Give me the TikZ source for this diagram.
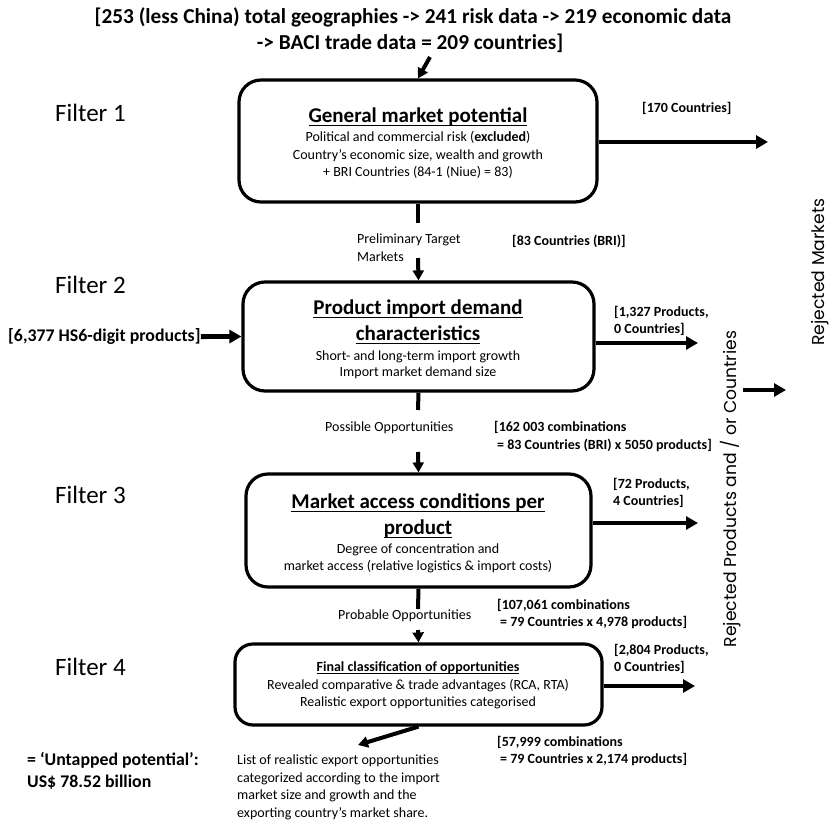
\documentclass[tikz,border=0pt]{standalone}
\usepackage{fontspec}
\setmainfont{Carlito}
\newfontfamily\gothic{Poppins}
\usetikzlibrary{arrows.meta}
\newcommand{\setfs}[1]{\fontsize{#1}{#1}\selectfont}
\newcommand{\myul}[2][1.5pt]{\setbox0=\hbox{#2}\rlap{\rule[-0.16em]{\wd0}{#1}}\box0}
\begin{document}
\begin{tikzpicture}[x=1pt,y=-1pt,
 fbox/.style={draw, line width=3.2pt, rounded corners=22pt, inner sep=0pt},
 bigarrow/.style={line width=4.8pt, -{Triangle[length=12pt,width=13pt]}},
 midarrow/.style={line width=4pt, -{Triangle[length=10pt,width=11pt]}},
 flowline/.style={line width=4pt},
 txt/.style={inner sep=0pt, anchor=base},
 ltxt/.style={inner sep=0pt, anchor=base west},
 filterlbl/.style={ltxt, font=\setfs{25}},
 boxtitle/.style={txt, font=\setfs{21}\bfseries},
 boxsub/.style={txt, font=\setfs{14}},
 smallbold/.style={ltxt, font=\setfs{14}\bfseries},
 smallreg/.style={ltxt, font=\setfs{14}},
 bigbold/.style={ltxt, font=\setfs{17.8}\bfseries},
 rot/.style={inner sep=0pt, rotate=90, font=\gothic\setfs{17.2}},
]
\useasboundingbox (0,0) rectangle (833,822);
\fill[white] (0,0) rectangle (833,822);

% top title
\node[txt, font=\setfs{21.3}\bfseries] (top1) at (413,23.8) {[253 (less China) total geographies -> 241 risk data -> 219 economic data};
\node[txt, font=\setfs{21.3}\bfseries] (top2) at (410,49.8) {-> BACI trade data = 209 countries]};

% filter labels
\node[filterlbl] (f1) at (55,121) {Filter 1};
\node[filterlbl] (f2) at (55,293) {Filter 2};
\node[filterlbl] (f3) at (55,503) {Filter 3};
\node[filterlbl] (f4) at (55,675) {Filter 4};

% boxes
\node[fbox, minimum width=358pt, minimum height=122pt] (b1) at (418,141) {};
\node[fbox, minimum width=351pt, minimum height=109pt] (b2) at (418.5,336.5) {};
\node[fbox, minimum width=345pt, minimum height=113pt] (b3) at (418.5,530.5) {};
\node[fbox, rounded corners=18pt, minimum width=367pt, minimum height=81pt] (b4) at (418.5,684.5) {};

% box 1 text
\node[boxtitle] (t1) at (418,122.7) {\myul{General market potential}};
\node[boxsub] (s1a) at (418,141.5) {Political and commercial risk (\textbf{excluded})};
\node[boxsub] (s1b) at (418,159.5) {Country’s economic size, wealth and growth};
\node[boxsub] (s1c) at (418,176.5) {+ BRI Countries (84-1 (Niue) = 83)};

% box 2 text
\node[boxtitle] (t2a) at (418,314.7) {\myul{Product import demand}};
\node[boxtitle] (t2b) at (418,340.7) {\myul{characteristics}};
\node[boxsub] (s2a) at (418,360.5) {Short- and long-term import growth};
\node[boxsub] (s2b) at (418,376.5) {Import market demand size};

% box 3 text
\node[boxtitle] (t3a) at (418,508.7) {\myul{Market access conditions per}};
\node[boxtitle] (t3b) at (418,534.7) {\myul{product}};
\node[boxsub] (s3a) at (418,553.5) {Degree of concentration and};
\node[boxsub] (s3b) at (418,570.5) {market access (relative logistics \& import costs)};

% box 4 text
\node[txt, font=\setfs{14}\bfseries] (t4) at (418,671.5) {\myul[1pt]{Final classification of opportunities}};
\node[boxsub] (s4a) at (418,689.5) {Revealed comparative \& trade advantages (RCA, RTA)};
\node[boxsub] (s4b) at (418,706.5) {Realistic export opportunities categorised};

% connectors
\coordinate (topin) at (430,57);
\draw[midarrow] (topin) -- (b1.north);

\coordinate (r1) at (768,142);
\draw[bigarrow] (b1.east |- r1) -- (r1);
\node[smallbold] (l170) at (642,112.5) {[170 Countries]};

\coordinate (m1) at (418,223);
\coordinate (m1b) at (418,258);
\draw[flowline] (b1.south) -- (m1);
\draw[midarrow] (m1b) -- (b2.north);
\node[smallreg] (pt1) at (357,243.5) {Preliminary Target};
\node[smallreg] (pt2) at (357,261.5) {Markets};
\node[smallbold] (l83) at (512,245.5) {[83 Countries (BRI)]};

\node[bigbold] (in2) at (8,341.6) {[6,377 HS6-digit products]};
\draw[bigarrow] (in2.east) -- (b2.west);

\coordinate (r2) at (698,343);
\draw[bigarrow] (b2.east |- r2) -- (r2);
\node[smallbold] (l1327a) at (614,316.5) {[1,327 Products,};
\node[smallbold] (l1327b) at (614,333.5) {0 Countries]};

\coordinate (m2) at (418,410);
\coordinate (m2b) at (418,452);
\draw[flowline] (b2.south) -- (m2);
\draw[midarrow] (m2b) -- (b3.north);
\node[smallreg] (po) at (325,431.5) {Possible Opportunities};
\node[smallbold] (c162a) at (494,431.5) {[162 003 combinations};
\node[smallbold] (c162b) at (497,449.5) {= 83 Countries (BRI) x 5050 products]};

\coordinate (r3) at (698,523);
\draw[bigarrow] (b3.east |- r3) -- (r3);
\node[smallbold] (l72a) at (613,488.5) {[72 Products,};
\node[smallbold] (l72b) at (613,505.5) {4 Countries]};

\coordinate (m3) at (418,609);
\coordinate (m3b) at (418,630);
\draw[flowline] (b3.south) -- (m3);
\draw[midarrow] (m3b) -- (b4.north);
\node[smallreg] (pr) at (338,619.5) {Probable Opportunities};
\node[smallbold] (c107a) at (497,609.5) {[107,061 combinations};
\node[smallbold] (c107b) at (500,626.5) {= 79 Countries x 4,978 products]};

\coordinate (r4) at (695,686);
\draw[bigarrow] (b4.east |- r4) -- (r4);
\node[smallbold] (l2804a) at (614,654.5) {[2,804 Products,};
\node[smallbold] (l2804b) at (614,671.5) {0 Countries]};

\coordinate (out) at (358,745);
\draw[midarrow] (b4.south) -- (out);
\node[smallbold] (c57a) at (497,746.5) {[57,999 combinations};
\node[smallbold] (c57b) at (500,763.5) {= 79 Countries x 2,174 products]};

\node[bigbold] (ut1) at (27,765.6) {= ‘Untapped potential’:};
\node[bigbold] (ut2) at (27,787.6) {US\$ 78.52 billion};

\node[smallreg] (ls1) at (237,764.5) {List of realistic export opportunities};
\node[smallreg] (ls2) at (237,782.5) {categorized according to the import};
\node[smallreg] (ls3) at (237,799.5) {market size and growth and the};
\node[smallreg] (ls4) at (237,817.5) {exporting country’s market share.};

% rejected
\node[rot] (rp) at (731,489) {Rejected Products and / or Countries};
\node[rot] (rm) at (820,272) {Rejected Markets};
\coordinate (rj1) at (743,390);
\coordinate (rj2) at (786,390);
\draw[bigarrow] (rj1) -- (rj2);
\end{tikzpicture}
\end{document}
